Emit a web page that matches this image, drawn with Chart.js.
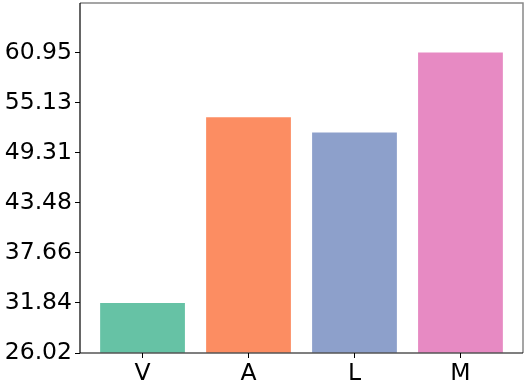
<!DOCTYPE html>
<html>
<head>
<meta charset="utf-8">
<script src="https://cdn.jsdelivr.net/npm/chart.js@4/dist/chart.umd.min.js"></script>
<style>
  html, body { margin: 0; padding: 0; background: #fff; }
  #wrap { width: 527px; height: 387px; }
</style>
</head>
<body>
<div id="wrap"><canvas id="grafico"></canvas></div>
<script>
// dados
const categorias = ['V', 'A', 'L', 'M'];
const valores = [31.84, 53.44, 51.65, 60.95];
const cores = ['#66c2a5', '#fc8d62', '#8da0cb', '#e78ac3'];
const ticksY = [26.02, 31.84, 37.66, 43.48, 49.31, 55.13, 60.95];
const yMin = 26.02, yMax = 66.72;

// moldura: cinza em cima e à direita, preta à esquerda e embaixo
const molduraPlugin = {
  id: 'moldura',
  afterDatasetsDraw(chart) {
    const { ctx, chartArea: a } = chart;
    ctx.save();
    ctx.strokeStyle = '#888888';
    ctx.lineWidth = 1.5;
    ctx.beginPath();
    ctx.moveTo(a.left, a.top);
    ctx.lineTo(a.right, a.top);
    ctx.lineTo(a.right, a.bottom);
    ctx.stroke();
    ctx.strokeStyle = '#000';
    ctx.lineWidth = 1.2;
    ctx.beginPath();
    ctx.moveTo(a.left, a.top);
    ctx.lineTo(a.left, a.bottom);
    ctx.lineTo(a.right, a.bottom);
    ctx.stroke();
    ctx.restore();
  }
};

new Chart(document.getElementById('grafico'), {
  type: 'bar',
  data: {
    datasets: [{
      data: valores.map((v, i) => ({ x: i, y: v })),
      backgroundColor: cores,
      borderWidth: 0,
      categoryPercentage: 1,
      barPercentage: 0.8,
      base: yMin
    }]
  },
  options: {
    responsive: true,
    maintainAspectRatio: false,
    animation: false,
    layout: { padding: { top: 3, right: 4, left: 0, bottom: 0 } },
    plugins: { legend: { display: false }, tooltip: { enabled: false } },
    scales: {
      x: {
        type: 'linear',
        min: -0.59,
        max: 3.59,
        offset: false,
        afterBuildTicks: s => { s.ticks = categorias.map((c, i) => ({ value: i })); },
        afterFit: s => { s.height = 34; s.paddingLeft = 0; s.paddingRight = 0; },
        grid: { offset: false, drawOnChartArea: false, drawTicks: true, tickLength: 5, color: '#000', lineWidth: 1 },
        border: { display: false },
        ticks: {
          color: '#000',
          padding: 2,
          maxRotation: 0,
          autoSkip: false,
          font: { family: 'DejaVu Sans', size: 23.5 },
          callback: v => categorias[Math.round(v)] ?? ''
        }
      },
      y: {
        min: yMin,
        max: yMax,
        afterBuildTicks: s => { s.ticks = ticksY.map(v => ({ value: v })); },
        afterFit: s => { s.width = 80; s.paddingTop = 0; s.paddingBottom = 0; },
        grid: { drawOnChartArea: false, drawTicks: true, tickLength: 5, color: '#000', lineWidth: 1 },
        border: { display: false },
        ticks: {
          color: '#000',
          padding: 3,
          autoSkip: false,
          font: { family: 'DejaVu Sans', size: 23.5 },
          callback: v => v.toFixed(2)
        }
      }
    }
  },
  plugins: [molduraPlugin]
});
</script>
</body>
</html>
